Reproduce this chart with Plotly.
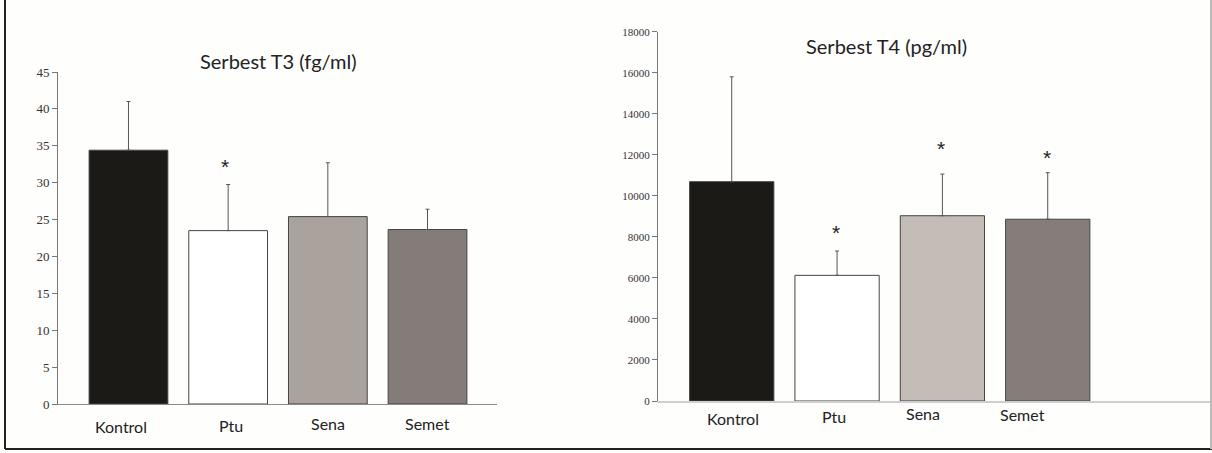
import plotly.graph_objects as go

categories = ["Kontrol", "Ptu", "Sena", "Semet"]

t3_values = [34.4, 23.5, 25.4, 23.65]
t3_err_plus = [6.6, 6.25, 7.3, 2.75]
t3_star_cat = ["Ptu"]
t3_star_y = [32.7]

t4_values = [10690, 6125, 9030, 8860]
t4_err_plus = [5110, 1185, 2030, 2270]
t4_star_cat = ["Ptu", "Sena", "Semet"]
t4_star_y = [8420, 12480, 12070]

t3_colors = ["#1b1a17", "#ffffff", "#aaa29d", "#847c78"]
t4_colors = ["#1b1a17", "#ffffff", "#c3bcb7", "#857d79"]

t3_ticks = [0, 5, 10, 15, 20, 25, 30, 35, 40, 45]
t3_ticktext = ["0", "5", "10", "15", "20", "25", "30", "35", "40", "45"]
t4_ticks = [0, 2000, 4000, 6000, 8000, 10000, 12000, 14000, 16000, 18000]
t4_ticktext = ["0", "2000", "4000", "6000", "8000", "10000", "12000",
               "14000", "16000", "18000"]

W, H = 1212, 453

fig = go.Figure()

fig.add_trace(go.Bar(
    x=categories, y=t3_values, xaxis="x", yaxis="y",
    marker=dict(color=t3_colors, line=dict(color="#444", width=1)),
    width=0.79,
    error_y=dict(type="data", array=t3_err_plus, arrayminus=[0]*4,
                 color="#555", thickness=1, width=2),
    showlegend=False,
))
fig.add_trace(go.Bar(
    x=categories, y=t4_values, xaxis="x2", yaxis="y2",
    marker=dict(color=t4_colors, line=dict(color="#444", width=1)),
    width=0.80,
    error_y=dict(type="data", array=t4_err_plus, arrayminus=[0]*4,
                 color="#555", thickness=1, width=2),
    showlegend=False,
))

tickfont_l = dict(family="Liberation Serif", size=13, color="#333")
tickfont_r = dict(family="Liberation Serif", size=11, color="#333")

fig.update_layout(
    width=W, height=H, autosize=False,
    margin=dict(l=0, r=0, t=0, b=0, autoexpand=False),
    paper_bgcolor="#fefefd", plot_bgcolor="rgba(0,0,0,0)",
    xaxis=dict(domain=[58 / W, 497 / W], range=[-0.707, 3.697],
               showticklabels=False, ticks="", showline=True,
               linecolor="#8a8a8a", linewidth=1, showgrid=False,
               zeroline=False, anchor="y", automargin=False),
    yaxis=dict(domain=[49 / H, 381 / H], range=[0, 45], tickvals=t3_ticks,
               ticktext=t3_ticktext,
               ticks="outside", ticklen=5, tickcolor="#777",
               showline=True, linecolor="#777", linewidth=1,
               showgrid=False, zeroline=False, tickfont=tickfont_l,
               anchor="x", automargin=False),
    xaxis2=dict(domain=[658 / W, 1211 / W], range=[-0.70, 4.55],
                showticklabels=False, ticks="", showline=True,
                linecolor="#cfcfcf", linewidth=2, showgrid=False,
                zeroline=False, anchor="y2", automargin=False),
    yaxis2=dict(domain=[52 / H, 421.3 / H], range=[0, 18000],
                tickvals=t4_ticks, ticktext=t4_ticktext,
                ticks="outside", ticklen=5,
                tickcolor="#777", showline=True, linecolor="#777",
                linewidth=1, showgrid=False, zeroline=False,
                tickfont=tickfont_r, anchor="x2", automargin=False),
    bargap=0.2,
)

annotations = []
annotations.append(dict(text="Serbest T3 (fg/ml)", xref="paper", yref="paper",
                        x=278 / W, y=1 - 61 / H, showarrow=False,
                        xanchor="center", yanchor="middle",
                        font=dict(family="Lato", size=20, color="#222")))
annotations.append(dict(text="Serbest T4 (pg/ml)", xref="paper", yref="paper",
                        x=887 / W, y=1 - 46 / H, showarrow=False,
                        xanchor="center", yanchor="middle",
                        font=dict(family="Lato", size=20, color="#222")))

left_shift = [-7, 3, 0, 0]
left_y = [426, 425, 423, 423]
for c, dx, yy in zip(categories, left_shift, left_y):
    annotations.append(dict(text=c, xref="x", yref="paper", x=c, y=1 - yy / H,
                            xshift=dx, showarrow=False, xanchor="center",
                            yanchor="middle",
                            font=dict(family="Lato", size=16, color="#222")))
right_shift = [1, -3, -19, -25]
right_y = [418, 416, 413, 414]
for c, dx, yy in zip(categories, right_shift, right_y):
    annotations.append(dict(text=c, xref="x2", yref="paper", x=c, y=1 - yy / H,
                            xshift=dx, showarrow=False, xanchor="center",
                            yanchor="middle",
                            font=dict(family="Lato", size=16, color="#222")))

for c, yv in zip(t3_star_cat, t3_star_y):
    annotations.append(dict(text="*", xref="x", yref="y", x=c, y=yv, xshift=-3,
                            yshift=-4, showarrow=False, xanchor="center",
                            yanchor="middle",
                            font=dict(family="Liberation Sans", size=21, color="#222")))
for c, yv in zip(t4_star_cat, t4_star_y):
    annotations.append(dict(text="*", xref="x2", yref="y2", x=c, y=yv, xshift=-1,
                            yshift=-4, showarrow=False, xanchor="center",
                            yanchor="middle",
                            font=dict(family="Liberation Sans", size=21, color="#222")))

fig.update_layout(annotations=annotations)

fig.add_shape(type="line", xref="paper", yref="paper", x0=5 / W, x1=5 / W,
              y0=1 - 449 / H, y1=1, line=dict(color="#222", width=2))
fig.add_shape(type="line", xref="paper", yref="paper", x0=5 / W, x1=1,
              y0=1 - 449 / H, y1=1 - 449 / H, line=dict(color="#222", width=2))
fig.add_shape(type="line", xref="paper", yref="paper", x0=1211 / W, x1=1211 / W,
              y0=1 - 449 / H, y1=1, line=dict(color="#bbb", width=2))

fig.write_html(
    "out.html",
    config={"responsive": False, "displayModeBar": False},
    post_script="document.body.style.margin='0';document.body.style.overflow='hidden';",
)
